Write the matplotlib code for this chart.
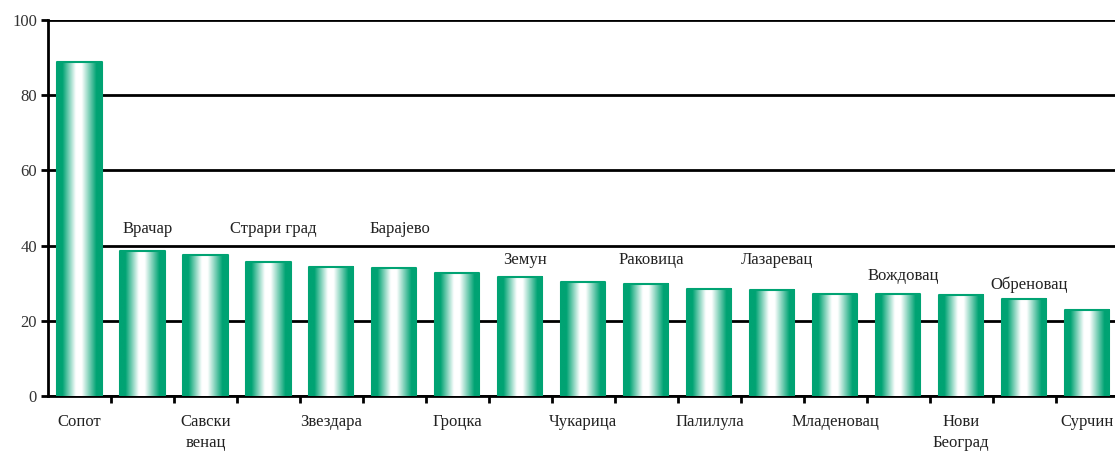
import numpy as np
import matplotlib.pyplot as plt
from matplotlib.colors import LinearSegmentedColormap

names = ['Сопот', 'Врачар', 'Савски\nвенац', 'Страри град', 'Звездара', 'Барајево',
         'Гроцка', 'Земун', 'Чукарица', 'Раковица', 'Палилула', 'Лазаревац',
         'Младеновац', 'Вождовац', 'Нови\nБеоград', 'Обреновац', 'Сурчин']
values = [88.8, 38.6, 37.5, 35.7, 34.4, 34.0, 32.7, 31.7, 30.3, 29.8,
          28.5, 28.2, 27.1, 27.1, 26.9, 25.8, 22.9]
# heights of the labels written above the even bars
top_label_y = {1: 44.5, 3: 44.5, 5: 44.5, 7: 36.3, 9: 36.3, 11: 36.3, 13: 32.0, 15: 29.6}

plt.rcParams['font.family'] = ['Liberation Serif', 'DejaVu Serif']

green = '#00a373'
cmap = LinearSegmentedColormap.from_list(
    'cyl', [(0, green), (0.12, green), (0.42, 'white'), (0.55, 'white'), (0.88, green), (1, green)])

fig = plt.figure(figsize=(11.15, 4.51), dpi=100)
ax = fig.add_axes([48 / 1115, 55 / 451, 1 - 48 / 1115, 376 / 451])

n = len(values)
w = 0.7
grad = np.linspace(0, 1, 200).reshape(1, -1)
for i, v in enumerate(values):
    ax.imshow(grad, cmap=cmap, aspect='auto', extent=(i - w / 2, i + w / 2, 0, v),
              zorder=3, interpolation='bilinear')
    ax.plot([i - w / 2, i - w / 2, i + w / 2, i + w / 2], [0, v, v, 0],
            color=green, lw=1.5, zorder=4)

ax.set_xlim(-0.5, n - 0.56)
ax.set_ylim(0, 100)
ax.set_yticks([0, 20, 40, 60, 80, 100])
ax.yaxis.grid(True, color='black', lw=2)
ax.set_axisbelow(True)
for s in ['top', 'right']:
    ax.spines[s].set_visible(False)
ax.spines['left'].set_linewidth(2)
ax.spines['bottom'].set_linewidth(2)
ax.set_xticks(np.arange(n - 1) + 0.5)
ax.set_xticklabels([])
ax.tick_params(axis='x', length=5, width=2, direction='out')
ax.tick_params(axis='y', length=5, width=2, labelsize=12, colors='black', pad=3)
for lab in ax.get_yticklabels():
    lab.set_color('#333333')

for i, name in enumerate(names):
    if i % 2 == 0:
        ax.text(i, -4.8, name, ha='center', va='top', fontsize=12,
                color='#222222', linespacing=1.45, clip_on=False)
    else:
        ax.text(i + 0.08, top_label_y[i], name, ha='center', va='center',
                fontsize=12, color='#222222')

fig.savefig('out.png', dpi=100)
